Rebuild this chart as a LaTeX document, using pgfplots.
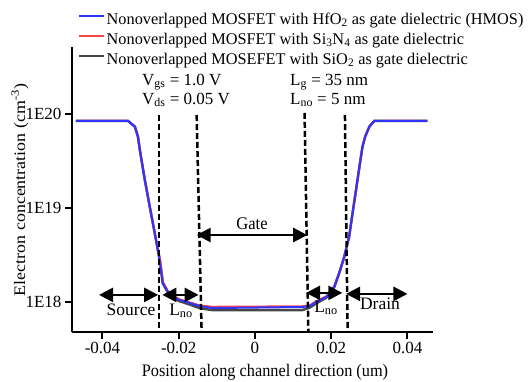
\documentclass[border=0pt]{standalone}
\usepackage{fontspec}
\setmainfont{Liberation Serif}
\usepackage{pgfplots}
\pgfplotsset{compat=1.18}
\usetikzlibrary{arrows.meta}
\newcommand{\fs}{\fontsize{16}{19}\selectfont}
\newcommand{\fl}{\fontsize{16.3}{19}\selectfont}
\newcommand{\fa}{\fontsize{17}{20}\selectfont}
\newcommand{\fb}{\fontsize{17.5}{20}\selectfont}
\definecolor{cblue}{RGB}{50,50,255}
\definecolor{cred}{RGB}{255,70,70}
\definecolor{cblack}{RGB}{70,70,70}
\begin{document}
\begin{tikzpicture}[font=\fs, >={Triangle[length=14pt,width=14pt]},
  vs/.style={yscale=1.08, transform shape}]
\useasboundingbox (0,0) rectangle (529pt,381pt);
\begin{axis}[
 at={(72pt,49pt)}, anchor=south west,
 scale only axis, width=361pt, height=285pt,
 xmin=-0.048, xmax=0.0467,
 ymode=log, ymin=4.8e17, ymax=5.16e20,
 axis x line*=bottom, axis y line*=left,
 axis line style={line width=2.5pt, -},
 scaled x ticks=false,
 xtick={-0.04,-0.02,0,0.02,0.04},
 xticklabels={-0.04,-0.02,0,0.02,0.04},
 ytick={1e18,1e19,1e20},
 yticklabels={1E18,1E19,1E20},
 yminorticks=false,
 tick align=outside, major tick length=7pt,
 tick style={line width=2pt, black},
 tick label style={font=\fontsize{17}{20}\selectfont},
 clip=false,
 legend style={draw=none, fill=none, at={(0.0166,1.121)}, anchor=north west,
   inner sep=0pt, row sep=4pt, column sep=2pt,
   nodes={inner sep=0pt, text height=11.5pt, text depth=4.5pt}},
 legend image code/.code={\draw[#1, line width=1.5pt] (0pt,4.5pt) -- (25pt,4.5pt);},
 legend cell align=left,
 reverse legend,
]
\addplot[cblack, line width=2.5pt] coordinates {
(-0.0470,8.43e19) (-0.0333,8.43e19) (-0.0315,7.33e19) (-0.0307,5.74e19) (-0.0302,4.14e19)
(-0.0289,1.99e19) (-0.0276,1.03e19) (-0.0263,5.42e18) (-0.0250,2.80e18) (-0.0242,1.59e18)
(-0.0224,1.17e18) (-0.0198,1.02e18) (-0.0171,9.4e17) (-0.0145,8.6e17) (-0.0111,8.2e17)
(0.0124,8.2e17) (0.0143,8.7e17) (0.0161,9.7e17) (0.0187,1.11e18) (0.0208,1.44e18)
(0.0221,2.03e18) (0.0234,3.0e18) (0.0247,4.95e18) (0.0256,8.85e18) (0.0265,1.55e19)
(0.0274,2.75e19) (0.0282,4.49e19) (0.0289,5.74e19) (0.0300,7.33e19) (0.0313,8.43e19)
(0.0452,8.43e19)
};
\addlegendentry{\fl Nonoverlapped MOSEFET with SiO\textsubscript{2} as gate dielectric}
\addplot[cred, line width=2pt] coordinates {
(-0.0470,8.43e19) (-0.0333,8.43e19) (-0.0315,7.33e19) (-0.0307,5.74e19) (-0.0302,4.14e19)
(-0.0289,1.99e19) (-0.0276,1.03e19) (-0.0263,5.42e18) (-0.0249,2.85e18) (-0.0241,1.63e18)
(-0.0224,1.21e18) (-0.0198,1.07e18) (-0.0171,9.9e17) (-0.0145,9.2e17) (-0.0111,8.9e17)
(0.0124,9.0e17) (0.0143,9.2e17) (0.0161,1.02e18) (0.0187,1.15e18) (0.0208,1.48e18)
(0.0221,2.07e18) (0.0234,3.04e18) (0.0247,4.95e18) (0.0256,8.85e18) (0.0265,1.55e19)
(0.0274,2.75e19) (0.0282,4.49e19) (0.0289,5.74e19) (0.0300,7.33e19) (0.0313,8.43e19)
(0.0452,8.43e19)
};
\addlegendentry{\fl Nonoverlapped MOSFET with Si\textsubscript{3}N\textsubscript{4} as gate dielectric}
\addplot[cblue, line width=2pt] coordinates {
(-0.0470,8.43e19) (-0.0333,8.43e19) (-0.0315,7.33e19) (-0.0307,5.74e19) (-0.0302,4.14e19)
(-0.0289,1.99e19) (-0.0276,1.03e19) (-0.0263,5.42e18) (-0.0250,2.80e18) (-0.0242,1.59e18)
(-0.0224,1.19e18) (-0.0198,1.05e18) (-0.0171,9.75e17) (-0.0145,9.06e17) (-0.0111,8.63e17)
(0.0124,8.85e17) (0.0143,9.06e17) (0.0161,1.0e18) (0.0187,1.13e18) (0.0208,1.45e18)
(0.0221,2.04e18) (0.0234,3.02e18) (0.0247,4.95e18) (0.0256,8.85e18) (0.0265,1.55e19)
(0.0274,2.75e19) (0.0282,4.49e19) (0.0289,5.74e19) (0.0300,7.33e19) (0.0313,8.43e19)
(0.0452,8.43e19)
};
\addlegendentry{\fl Nonoverlapped MOSFET with HfO\textsubscript{2} as gate dielectric (HMOS)}
% dashed boundaries
\draw[black, line width=2.5pt, dash pattern=on 6pt off 3pt] (axis cs:-0.0252,9.75e19) -- (axis cs:-0.0252,4.8e17);
\draw[black, line width=2.5pt, dash pattern=on 6pt off 3pt] (axis cs:-0.0153,9.75e19) -- (axis cs:-0.0140,4.8e17);
\draw[black, line width=2.5pt, dash pattern=on 6pt off 3pt] (axis cs:0.0130,1.03e20) -- (axis cs:0.0140,4.8e17);
\draw[black, line width=2.5pt, dash pattern=on 6pt off 3pt] (axis cs:0.0236,9.75e19) -- (axis cs:0.0243,4.8e17);
% arrows
\draw[<->, line width=2.5pt] (axis cs:-0.0409,1.19e18) -- (axis cs:-0.0254,1.19e18);
\draw[<->, line width=2.5pt] (axis cs:-0.0243,1.19e18) -- (axis cs:-0.0148,1.19e18);
\draw[<->, line width=2.5pt] (axis cs:-0.0153,5.16e18) -- (axis cs:0.0137,5.16e18);
\draw[<->, line width=2.5pt] (axis cs:0.0134,1.25e18) -- (axis cs:0.0229,1.25e18);
\draw[<->, line width=2.5pt] (axis cs:0.0239,1.22e18) -- (axis cs:0.0400,1.22e18);
\end{axis}
% texts
\node[font=\fa, anchor=base west, inner sep=0pt] at (142pt,296pt) {V\textsubscript{gs} = 1.0 V};
\node[font=\fa, anchor=base west, inner sep=0pt] at (142pt,277pt) {V\textsubscript{ds} = 0.05 V};
\node[font=\fa, anchor=base west, inner sep=0pt] at (290pt,296pt) {L\textsubscript{g} = 35 nm};
\node[font=\fa, anchor=base west, inner sep=0pt] at (290pt,277pt) {L\textsubscript{no} = 5 nm};
\node[font=\fontsize{16.5}{19}\selectfont, vs, anchor=base, inner sep=0pt] at (252pt,152pt) {Gate};
\node[font=\fb, anchor=base, inner sep=0pt] at (131pt,66pt) {Source};
\node[font=\fb, anchor=base, inner sep=0pt] at (181pt,66pt) {L\textsubscript{no}};
\node[font=\fb, anchor=base, inner sep=0pt] at (326pt,69pt) {L\textsubscript{no}};
\node[font=\fb, anchor=base, inner sep=0pt] at (380pt,72pt) {Drain};
\node[rotate=90, xscale=1.12, transform shape, inner sep=0pt] at (20pt,191pt) {Electron concentration (cm\textsuperscript{-3})};
\node[font=\fontsize{16.3}{19}\selectfont, vs, anchor=base, inner sep=0pt] at (265pt,5pt) {Position along channel direction (um)};
\end{tikzpicture}
\end{document}
